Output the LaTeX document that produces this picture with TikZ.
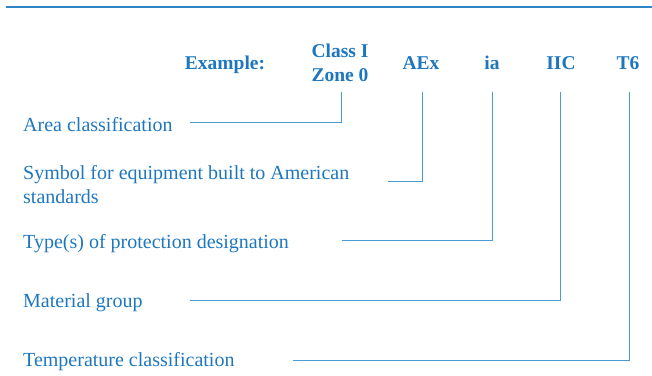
\documentclass[tikz,border=0pt]{standalone}
\usepackage{fontspec}
\setmainfont{Liberation Serif}
\definecolor{txtblue}{HTML}{1E77BD}
\definecolor{lnblue}{HTML}{4A9BD5}
\definecolor{topblue}{HTML}{2F84C6}
\begin{document}
\begin{tikzpicture}[x=1pt,y=-1pt,
  lbl/.style={anchor=west,inner sep=0pt,text=txtblue,font=\fontsize{20}{24}\selectfont,align=left},
  hd/.style={anchor=base,inner sep=0pt,text=txtblue,font=\fontsize{19.5}{24}\selectfont\bfseries,align=center},
  ln/.style={draw=lnblue,line width=1pt},
  topln/.style={draw=topblue,line width=1.1pt}]
\useasboundingbox (0,0) rectangle (652,375);
\coordinate (t1) at (6,7);
\coordinate (t2) at (652,7);
\draw[topln] (t1) -- (t2);
% headings
\node[hd] (ex) at (225,69) {Example:};
\node[hd] (cl) at (340,57) {Class I};
\node[hd] (zn) at (340,81) {Zone 0};
\node[hd] (aex) at (421,69) {AEx};
\node[hd] (ia) at (492,69) {ia};
\node[hd] (iic) at (561,69) {IIC};
\node[hd] (t6) at (628,69) {T6};
% coordinates for line tops
\coordinate (c1) at (341,92);
\coordinate (c2) at (422,92);
\coordinate (c3) at (492,92);
\coordinate (c4) at (560,92);
\coordinate (c5) at (629,92);
% labels
\node[lbl] (l1) at (23,125) {Area classification};
\node[lbl] (l2) at (23,185) {Symbol for equipment built to American\\standards};
\node[lbl] (l3) at (23,244) {Type(s) of protection designation};
\node[lbl] (l4) at (23,303) {Material group};
\node[lbl] (l5) at (23,362) {Temperature classification};
% line ends
\coordinate (e1) at (190,122);
\coordinate (e2) at (388,181);
\coordinate (e3) at (342,240);
\coordinate (e4) at (190,300);
\coordinate (e5) at (293,360);
\draw[ln] (c1) |- (e1);
\draw[ln] (c2) |- (e2);
\draw[ln] (c3) |- (e3);
\draw[ln] (c4) |- (e4);
\draw[ln] (c5) |- (e5);
\end{tikzpicture}
\end{document}
